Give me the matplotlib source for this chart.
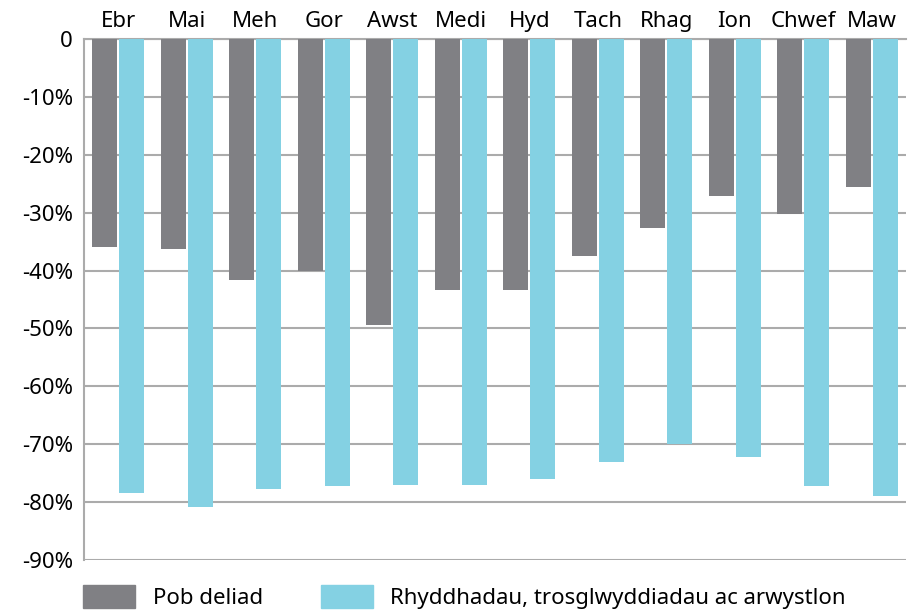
import numpy as np
import matplotlib.pyplot as plt
from matplotlib.patches import Patch

plt.rcParams['font.family'] = ['Noto Sans', 'DejaVu Sans']

months = ['Ebr', 'Mai', 'Meh', 'Gor', 'Awst', 'Medi', 'Hyd', 'Tach', 'Rhag', 'Ion', 'Chwef', 'Maw']
pob_deliad = [-36.0, -36.3, -41.7, -40.1, -49.4, -43.4, -43.4, -37.4, -32.7, -27.2, -30.3, -25.6]
rhyddhadau = [-78.4, -80.8, -77.7, -77.2, -77.0, -77.0, -76.0, -73.0, -70.0, -72.2, -77.2, -78.9]
series_names = ['Pob deliad', 'Rhyddhadau, trosglwyddiadau ac arwystlon']
yticks = [0, -10, -20, -30, -40, -50, -60, -70, -80, -90]
ytick_labels = ['0', '-10%', '-20%', '-30%', '-40%', '-50%', '-60%', '-70%', '-80%', '-90%']

grey = '#808084'
blue = '#84d1e3'
gridc = '#ababab'
fs = 16

W, H = 910, 614
fig = plt.figure(figsize=(W / 100, H / 100), dpi=100)
ax = fig.add_axes([84 / W, 1 - 560 / H, (906 - 84) / W, (560 - 39) / H])

x = np.arange(len(months))
w = 0.365
ax.bar(x - 0.195, pob_deliad, w, color=grey, zorder=3)
ax.bar(x + 0.195, rhyddhadau, w, color=blue, zorder=3)

ax.set_xlim(-0.5, len(months) - 0.5)
ax.set_ylim(-90, 0)
ax.set_yticks(yticks)
ax.set_yticklabels(ytick_labels, fontsize=fs)
ax.yaxis.grid(True, color=gridc, linewidth=1.5, zorder=0)
ax.tick_params(axis='y', length=0, pad=8)

ax.xaxis.tick_top()
ax.set_xticks(x)
ax.set_xticklabels(months, fontsize=fs)
ax.tick_params(axis='x', length=0, pad=5)

for s in ['right', 'bottom']:
    ax.spines[s].set_visible(False)
ax.spines['left'].set_color(gridc)
ax.spines['left'].set_linewidth(1.5)
ax.spines['top'].set_color(gridc)
ax.spines['top'].set_linewidth(1.5)

handles = [Patch(color=grey), Patch(color=blue)]
fig.legend(handles, series_names, loc='lower left', bbox_to_anchor=(83 / W, 5 / H),
           ncol=2, frameon=False, fontsize=fs, handlelength=2.34, handleheight=1.2,
           handletextpad=0.8, columnspacing=2.6, borderpad=0, borderaxespad=0)

fig.savefig('out.png', dpi=100)
